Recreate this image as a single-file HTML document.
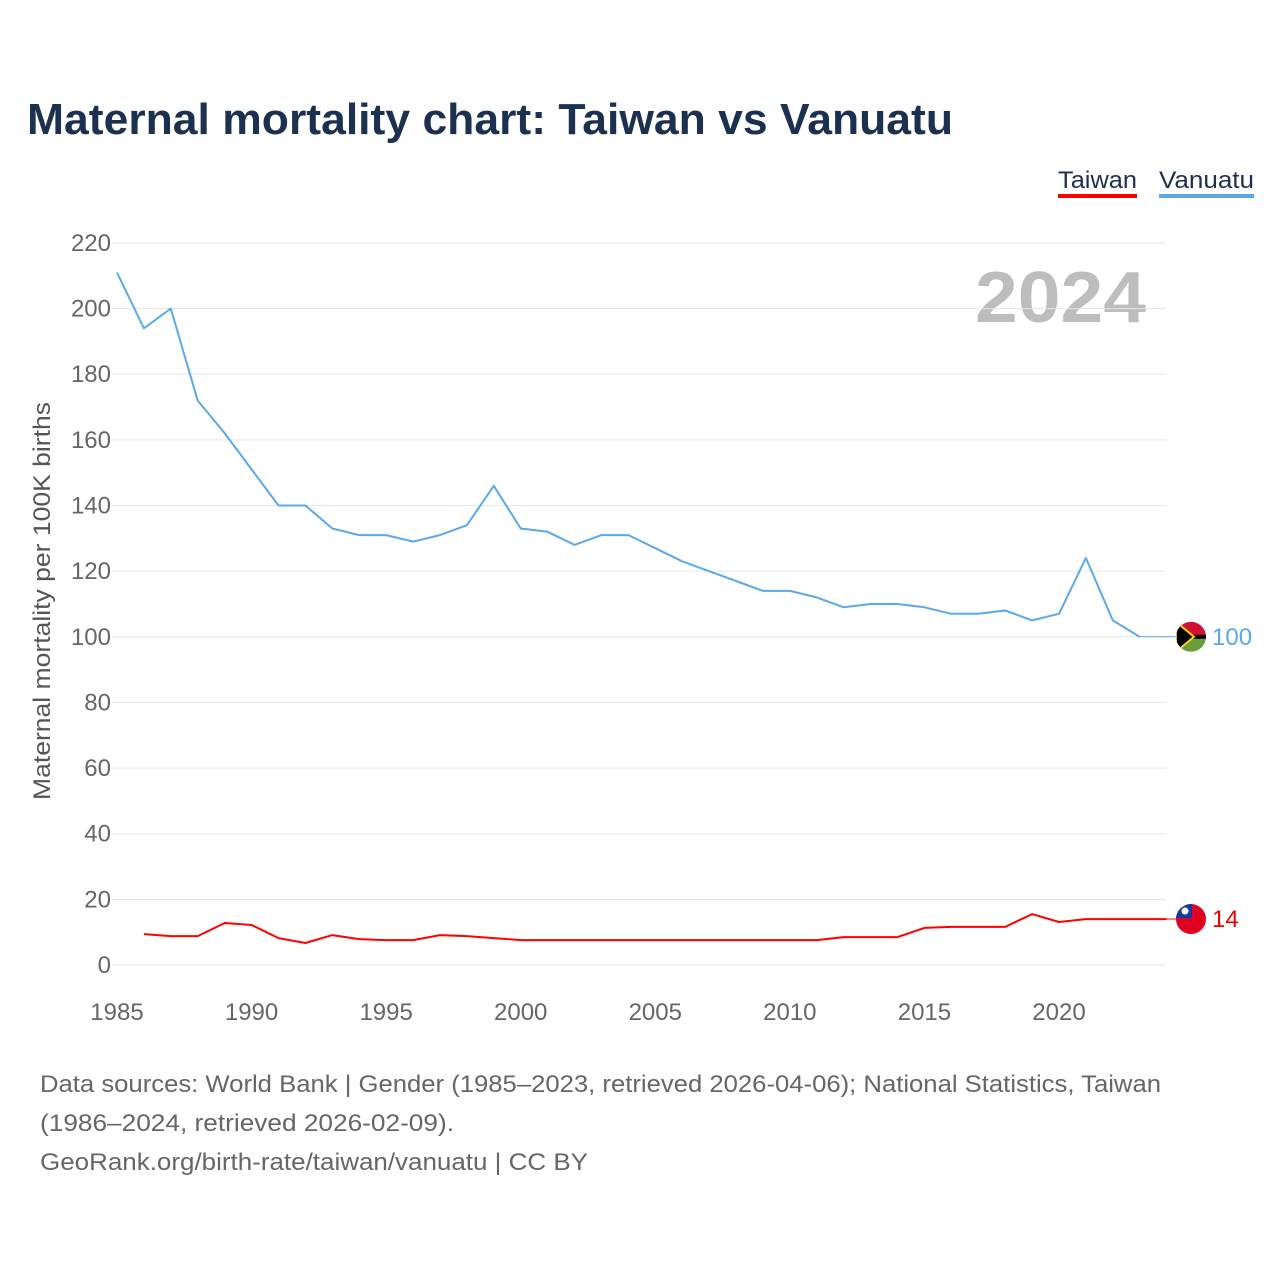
<!DOCTYPE html>
<html><head><meta charset="utf-8"><style>
body{margin:0;background:#fff;font-family:"Liberation Sans",sans-serif;}
svg{display:block}
</style></head><body>
<svg width="1280" height="1280" viewBox="0 0 1280 1280">
<text x="27" y="134" font-size="44" font-weight="bold" fill="#1c3050" textLength="926" lengthAdjust="spacingAndGlyphs">Maternal mortality chart: Taiwan vs Vanuatu</text>
<g>
<text x="1058" y="188" font-size="24" fill="#1c3050" textLength="79" lengthAdjust="spacingAndGlyphs">Taiwan</text>
<rect x="1058" y="194" width="79" height="4" fill="#ff0000"/>
<text x="1159" y="188" font-size="24" fill="#1c3050" textLength="95" lengthAdjust="spacingAndGlyphs">Vanuatu</text>
<rect x="1159" y="194" width="95" height="4" fill="#5ba8ea"/>
</g>
<text x="1146" y="322" font-size="72" font-weight="bold" fill="#bdbdbd" text-anchor="end" textLength="171" lengthAdjust="spacingAndGlyphs">2024</text>
<g id="grid"></g>
<g id="yt"></g>
<g id="xt"></g>
<text transform="translate(50,601) rotate(-90)" font-size="24" fill="#555" text-anchor="middle" textLength="398" lengthAdjust="spacingAndGlyphs">Maternal mortality per 100K births</text>
<g id="series"></g>
<g font-size="24" fill="#666" lengthAdjust="spacingAndGlyphs">
<text x="40" y="1092" textLength="1121" lengthAdjust="spacingAndGlyphs">Data sources: World Bank | Gender (1985–2023, retrieved 2026-04-06); National Statistics, Taiwan</text>
<text x="40" y="1131" textLength="414" lengthAdjust="spacingAndGlyphs">(1986–2024, retrieved 2026-02-09).</text>
<text x="40" y="1170" textLength="548" lengthAdjust="spacingAndGlyphs">GeoRank.org/birth-rate/taiwan/vanuatu | CC BY</text>
</g>
</svg>
<script>
const yTicks=[0,20,40,60,80,100,120,140,160,180,200,220];
const xTicks=[1985,1990,1995,2000,2005,2010,2015,2020];
const vanYears=[1985,1986,1987,1988,1989,1990,1991,1992,1993,1994,1995,1996,1997,1998,1999,2000,2001,2002,2003,2004,2005,2006,2007,2008,2009,2010,2011,2012,2013,2014,2015,2016,2017,2018,2019,2020,2021,2022,2023];
const vanValues=[211,194,200,172,162,151,140,140,133,131,131,129,131,134,146,133,132,128,131,131,127,123,120,117,114,114,112,109,110,110,109,107,107,108,105,107,124,105,100];
const twYears=[1986,1987,1988,1989,1990,1991,1992,1993,1994,1995,1996,1997,1998,1999,2000,2001,2002,2003,2004,2005,2006,2007,2008,2009,2010,2011,2012,2013,2014,2015,2016,2017,2018,2019,2020,2021,2022,2023,2024];
const twValues=[9.4,8.8,8.8,12.8,12.2,8.2,6.7,9.1,7.9,7.6,7.6,9.1,8.8,8.2,7.6,7.6,7.6,7.6,7.6,7.6,7.6,7.6,7.6,7.6,7.6,7.6,8.5,8.5,8.5,11.3,11.6,11.6,11.6,15.5,13.1,14,14,14,14];
const NS="http://www.w3.org/2000/svg";
const X=y=>117+(y-1985)*26.914;
const Y=v=>965-v*3.282;
function mk(t,a,p){const e=document.createElementNS(NS,t);for(const k in a)e.setAttribute(k,a[k]);p.appendChild(e);return e;}
const grid=document.getElementById('grid'),yt=document.getElementById('yt'),xt=document.getElementById('xt'),s=document.getElementById('series');
yTicks.forEach(v=>{
 const l=mk('line',{x1:112,x2:1166,y1:Y(v),y2:Y(v),stroke:'#e6e6e6','stroke-width':1},grid);
 
 
 const t=mk('text',{x:111,y:Y(v)+8,'font-size':24,fill:'#666','text-anchor':'end'},yt);t.textContent=v;
 
 
});
xTicks.forEach(v=>{
 const t=mk('text',{x:X(v),y:1020,'font-size':24,fill:'#666','text-anchor':'middle'},xt);t.textContent=v;
 
 
});
function line(ys,vs,col,name){
 const d=ys.map((y,i)=>(i?'L':'M')+X(y).toFixed(1)+','+Y(vs[i]).toFixed(1)).join('');
 const p=mk('path',{d:d,fill:'none',stroke:col,'stroke-width':2,'stroke-linejoin':'round'},s);
 
 
 const lastY=Y(vs[vs.length-1]);
 mk('line',{x1:X(ys[ys.length-1]),x2:1190,y1:lastY,y2:lastY,stroke:col,'stroke-width':1},s);
 return lastY;
}
const vy=line(vanYears,vanValues,'#5ba8ea','vanuatu');
const ty=line(twYears,twValues,'#ff0000','taiwan');
let g=mk('g',{},s);
const cv=mk('clipPath',{id:'cv'},g);mk('circle',{cx:1191,cy:vy,r:15},cv);
const gv=mk('g',{'clip-path':'url(#cv)'},g);
mk('rect',{x:1176,y:vy-15,width:30,height:15,fill:'#d21034'},gv);
mk('rect',{x:1176,y:vy,width:30,height:15,fill:'#6a9e3c'},gv);
mk('rect',{x:1176,y:vy-2,width:30,height:4,fill:'#000'},gv);
mk('polygon',{points:`1176,${vy-15} 1194,${vy} 1176,${vy+15}`,fill:'#000',stroke:'#fdce12','stroke-width':2},gv);
const vt=mk('text',{x:1212,y:vy+8,'font-size':24,fill:'#5ba8ea'},s);vt.textContent=vanValues[vanValues.length-1];

g=mk('g',{},s);
const cp=mk('clipPath',{id:'ct'},g);mk('circle',{cx:1191,cy:ty,r:15},cp);
const gt=mk('g',{'clip-path':'url(#ct)'},g);
mk('rect',{x:1176,y:ty-15,width:30,height:30,fill:'#e00020'},gt);
mk('rect',{x:1176,y:ty-15,width:16,height:14,fill:'#1a3a9a'},gt);
mk('circle',{cx:1185,cy:ty-8,r:3.5,fill:'#fff'},gt);
const tt=mk('text',{x:1212,y:ty+8,'font-size':24,fill:'#e00'},s);tt.textContent=twValues[twValues.length-1];

</script>
</body></html>
